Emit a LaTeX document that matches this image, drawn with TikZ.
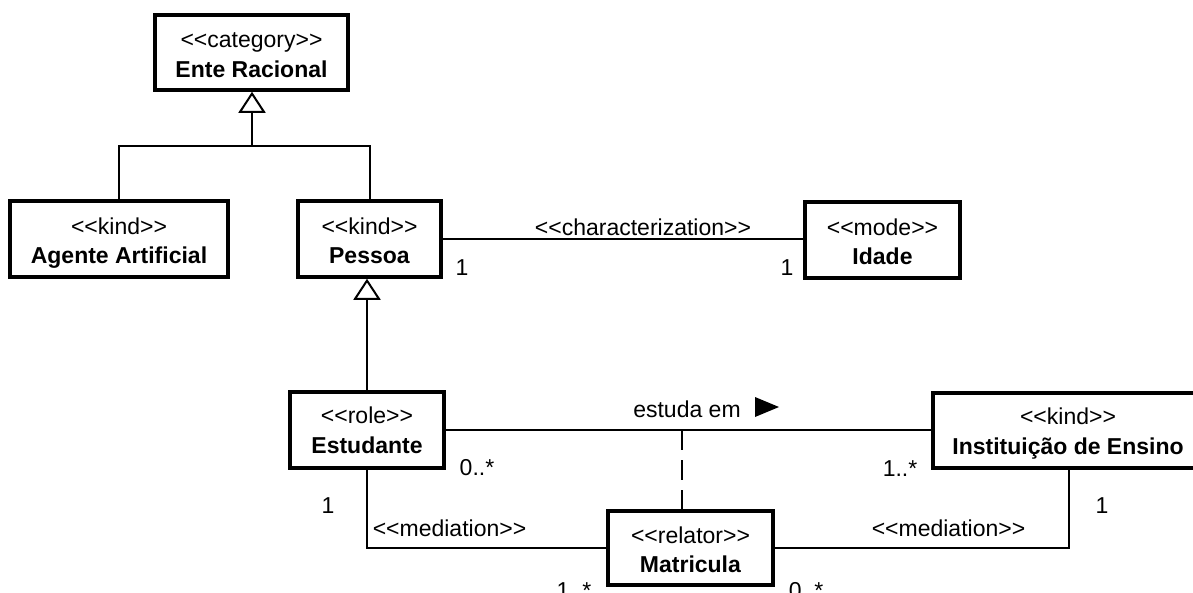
\documentclass[tikz,border=0pt]{standalone}
\usepackage{fontspec}
\setmainfont{Liberation Sans}
\usetikzlibrary{arrows.meta}
\begin{document}
\begin{tikzpicture}[x=1pt, y=-1pt,
  every node/.style={font=\fontsize{23}{28}\selectfont},
  classbox/.style={draw, line width=3.5pt, rectangle, inner sep=0pt},
  txt/.style={inner sep=0pt, anchor=base},
  conn/.style={line width=2pt},
  gen/.style={conn, -{Triangle[open, length=21pt, width=27pt, line width=2pt]}},
]
\useasboundingbox (0,0) rectangle (1193,592);

% class boxes
\node[classbox, minimum width=193pt, minimum height=75pt] (ente) at (251.5,52.5) {};
\node[classbox, minimum width=218pt, minimum height=76pt] (agente) at (119,239) {};
\node[classbox, minimum width=143pt, minimum height=76pt] (pessoa) at (369.5,239) {};
\node[classbox, minimum width=155pt, minimum height=76pt] (idade) at (882.5,240) {};
\node[classbox, minimum width=154pt, minimum height=76pt] (estudante) at (367,430) {};
\node[classbox, minimum width=272pt, minimum height=75pt] (inst) at (1069,430.5) {};
\node[classbox, minimum width=165pt, minimum height=74pt] (matricula) at (690.5,548) {};

% stereotypes and names
\node[txt] (ente-s) at (251.5,47) {<{}<category>{}>};
\node[txt] (ente-n) at (251.5,77) {\textbf{Ente Racional}};
\node[txt] (agente-s) at (119,234) {<{}<kind>{}>};
\node[txt] (agente-n) at (119,263) {\textbf{Agente Artificial}};
\node[txt] (pessoa-s) at (369.5,234) {<{}<kind>{}>};
\node[txt] (pessoa-n) at (369.5,263) {\textbf{Pessoa}};
\node[txt] (idade-s) at (882.5,235) {<{}<mode>{}>};
\node[txt] (idade-n) at (882.5,264) {\textbf{Idade}};
\node[txt] (estudante-s) at (367,423) {<{}<role>{}>};
\node[txt] (estudante-n) at (367,453) {\textbf{Estudante}};
\node[txt] (inst-s) at (1068,424) {<{}<kind>{}>};
\node[txt] (inst-n) at (1068,454) {\textbf{Instituição de Ensino}};
\node[txt] (matricula-s) at (690.5,543) {<{}<relator>{}>};
\node[txt] (matricula-n) at (690.5,572) {\textbf{Matricula}};

% generalization: Ente Racional
\coordinate (g1) at (252,146);
\draw[gen] (g1) -- (g1 |- ente.south);
\draw[conn] (agente.north) |- (g1) -| (pessoa.north);

% generalization: Pessoa
\draw[gen] (estudante.north) -- (estudante.north |- pessoa.south);

% characterization
\draw[conn] (pessoa.east) -- (pessoa.east -| idade.west);
\node[txt] (char-l) at (643,235) {<{}<characterization>{}>};
\node[txt] (char-m1) at (462,275) {1};
\node[txt] (char-m2) at (787,275) {1};

% material relation "estuda em"
\draw[conn] (estudante.east) -- (estudante.east -| inst.west);
\node[txt] (estuda-l) at (687,417) {estuda em};
\fill (755,397) -- (779,407) -- (755,417) -- cycle;
\node[txt] (estuda-m1) at (477,475) {0..*};
\node[txt] (estuda-m2) at (900,476) {1..*};

% derivation to the relator
\coordinate (d1) at (682,430);
\draw[conn, dash pattern=on 20pt off 10pt] (d1) -- (d1 |- matricula.north);

% mediations
\draw[conn] (estudante.south) |- (matricula.west);
\draw[conn] (inst.south) |- (matricula.east);
\node[txt] (med-l) at (449.5,536) {<{}<mediation>{}>};
\node[txt] (med-r) at (948.5,536) {<{}<mediation>{}>};
\node[txt] (med-l1) at (328,513) {1};
\node[txt] (med-r1) at (1102,513) {1};
\node[txt] (med-l2) at (574,598) {1..*};
\node[txt] (med-r2) at (806,598) {0..*};
\end{tikzpicture}
\end{document}
